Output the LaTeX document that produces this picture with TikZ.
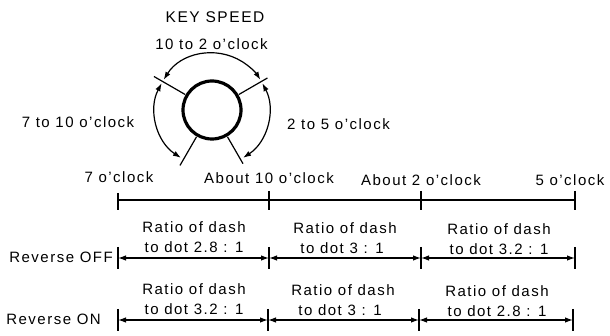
\documentclass[tikz,border=0pt]{standalone}
\usepackage{fontspec}
\setmainfont{Liberation Sans}[LetterSpace=10]
\usetikzlibrary{arrows.meta}
\begin{document}
\begin{tikzpicture}[x=1pt,y=1pt,
  lbl/.style={font=\fontsize{15}{17}\selectfont, inner sep=0pt, anchor=base},
  dimarr/.style={{Latex[length=8pt,width=5.5pt]}-{Latex[length=8pt,width=5.5pt]}, line width=1.2pt},
  tickline/.style={line width=1.2pt}]
\useasboundingbox (0,0) rectangle (610,-336);
% dial
\coordinate (c) at (212,-110);
\draw[line width=3.2pt] (c) circle[radius=29pt];
\foreach \a/\r in {150/67,30/64,240/64,300/62}
  \draw[tickline] ([shift={(\a:31pt)}]c) -- ([shift={(\a:\r pt)}]c);
\draw[dimarr] ([shift={(148:57pt)}]c) arc[start angle=148, end angle=32, radius=57pt];
\draw[dimarr] ([shift={(152:57pt)}]c) arc[start angle=152, end angle=237, radius=57pt];
\draw[dimarr] ([shift={(28:57pt)}]c) arc[start angle=28, end angle=-57, radius=57pt];
\node[lbl, font=\fontsize{15.5}{17}\selectfont] (key) at (215,-23) {KEY SPEED};
\node[lbl] (l102) at (211.5,-50) {10 to 2 o’clock};
\node[lbl] (l710) at (78,-128) {7 to 10 o’clock};
\node[lbl] (l25) at (338.5,-130) {2 to 5 o’clock};
% timeline
\coordinate (t0) at (118,-200);
\coordinate (t1) at (269,-200);
\coordinate (t2) at (421,-200);
\coordinate (t3) at (575,-200);
\draw[tickline] (t0) -- (t3);
\draw[tickline] ([yshift=7pt]t0) -- ([yshift=-10pt]t0);
\foreach \p in {t1,t2,t3} \draw[tickline] ([yshift=9pt]\p) -- ([yshift=-10pt]\p);
\node[lbl] (n7) at (119,-183) {7 o’clock};
\node[lbl] (n10) at (269,-184) {About 10 o’clock};
\node[lbl] (n2) at (421,-186) {About 2 o’clock};
\node[lbl] (n5) at (570,-186) {5 o’clock};
% Reverse OFF
\coordinate (a0) at (118,-258);
\coordinate (a1) at (269,-258);
\coordinate (a2) at (421,-258);
\coordinate (a3) at (575,-258);
\foreach \p in {a0,a1,a2,a3} \draw[tickline] ([yshift=11pt]\p) -- ([yshift=-11pt]\p);
\draw[dimarr] (a0) -- (a1);
\draw[dimarr] (a1) -- (a2);
\draw[dimarr] (a2) -- (a3);
\node[lbl, anchor=base east] (roff) at (113,-263) {Reverse OFF};
\node[lbl] (o1a) at (194,-233) {Ratio of dash};
\node[lbl] (o1b) at (194,-253) {to dot 2.8 : 1};
\node[lbl] (o2a) at (345,-234) {Ratio of dash};
\node[lbl] (o2b) at (342,-254) {to dot 3 : 1};
\node[lbl] (o3a) at (499,-235) {Ratio of dash};
\node[lbl] (o3b) at (499,-255) {to dot 3.2 : 1};
% Reverse ON
\coordinate (b0) at (118,-320);
\coordinate (b1) at (268,-320);
\coordinate (b2) at (419,-320);
\coordinate (b3) at (573,-320);
\foreach \p in {b0,b1,b2,b3} \draw[tickline] ([yshift=11pt]\p) -- ([yshift=-11pt]\p);
\draw[dimarr] (b0) -- (b1);
\draw[dimarr] (b1) -- (b2);
\draw[dimarr] (b2) -- (b3);
\node[lbl, anchor=base east] (ron) at (101,-325) {Reverse ON};
\node[lbl] (p1a) at (194,-295) {Ratio of dash};
\node[lbl] (p1b) at (194,-315) {to dot 3.2 : 1};
\node[lbl] (p2a) at (343,-296) {Ratio of dash};
\node[lbl] (p2b) at (340,-316) {to dot 3 : 1};
\node[lbl] (p3a) at (497,-297) {Ratio of dash};
\node[lbl] (p3b) at (497,-317) {to dot 2.8 : 1};
\end{tikzpicture}
\end{document}
